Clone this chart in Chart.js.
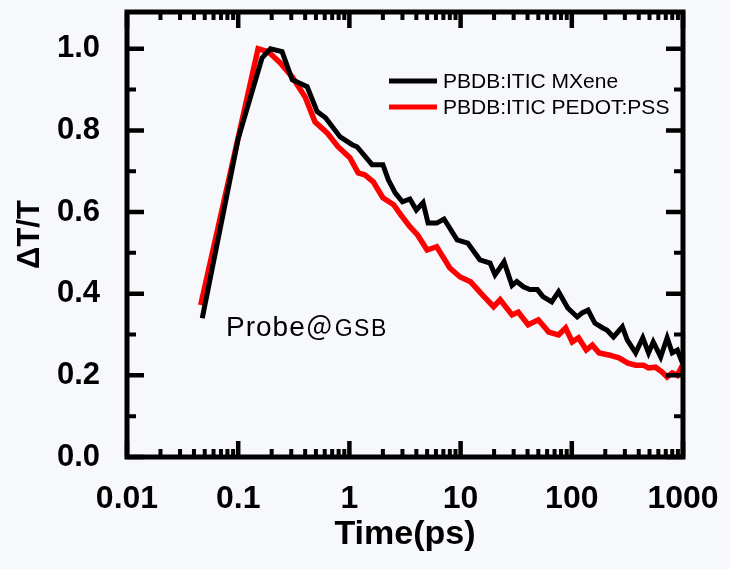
<!DOCTYPE html>
<html>
<head>
<meta charset="utf-8">
<script src="https://cdn.jsdelivr.net/npm/chart.js@4"></script>
<style>
  body { margin: 0; background: #f6f8fc; }
  canvas { display: block; }
</style>
</head>
<body>
<canvas id="chart" width="730" height="569"></canvas>
<script>
// time delays (ps) and normalized signal
const mxTime = [0.0475, 0.1, 0.164, 0.195, 0.248, 0.306, 0.417, 0.513, 0.61, 0.826, 1.06, 1.17, 1.6, 2.0, 2.24,
  2.58, 3.0, 3.5, 4.0, 4.6, 5.1, 6.1, 7.1, 9.3, 11.6, 14.9, 18.4, 20.4, 24.6, 29, 32, 36.7, 42, 49, 55, 66,
  76, 92, 112, 124, 140, 161, 190, 207, 237, 285, 315, 375, 435, 490, 540, 630, 720, 800, 890, 990];
const mxSignal = [0.34, 0.78, 0.978, 1.0, 0.993, 0.924, 0.907, 0.846, 0.831, 0.784, 0.765, 0.76, 0.716, 0.716, 0.679,
  0.647, 0.625, 0.632, 0.605, 0.623, 0.573, 0.573, 0.583, 0.532, 0.524, 0.483, 0.475, 0.446, 0.478, 0.42, 0.43, 0.417, 0.41, 0.41, 0.393, 0.38,
  0.405, 0.365, 0.343, 0.353, 0.36, 0.328, 0.316, 0.311, 0.294, 0.319, 0.287, 0.255, 0.292, 0.255, 0.282, 0.245, 0.292, 0.255, 0.262, 0.23];

const pedotTime = [0.046, 0.151, 0.186, 0.238, 0.306, 0.40, 0.49, 0.63, 0.79, 1.01, 1.2, 1.38, 1.64, 2.0, 2.5,
  2.9, 3.5, 4.1, 5.0, 6.1, 8.0, 9.9, 12.3, 15.7, 19.8, 22.7, 29, 33, 40.5, 50, 62, 76, 88, 101, 115, 135,
  153, 176, 215, 265, 320, 375, 440, 490, 565, 650, 720, 800, 890, 990];
const pedotSignal = [0.372, 1.0, 0.993, 0.966, 0.931, 0.882, 0.821, 0.794, 0.76, 0.733, 0.696, 0.691, 0.674, 0.635, 0.618,
  0.593, 0.564, 0.544, 0.507, 0.515, 0.463, 0.441, 0.429, 0.397, 0.368, 0.385, 0.348, 0.355, 0.324, 0.336, 0.306, 0.299, 0.316, 0.282, 0.292, 0.262,
  0.274, 0.255, 0.25, 0.243, 0.23, 0.225, 0.225, 0.218, 0.22, 0.208, 0.196, 0.206, 0.2, 0.225];

const xTicks = [0.01, 0.1, 1, 10, 100, 1000];
const yTicks = [0, 0.2, 0.4, 0.6, 0.8, 1.0];
const yMinorTicks = [0.1, 0.3, 0.5, 0.7, 0.9];

const toPoints = (xs, ys) => xs.map((x, i) => ({ x: x, y: ys[i] }));

// box frame + inward ticks like the origin-style plot
const framePlugin = {
  id: 'frame',
  afterDatasetsDraw(chart) {
    const { ctx, chartArea: a, scales } = chart;
    const xs = scales.x, ys = scales.y;
    ctx.save();
    ctx.strokeStyle = '#000';
    ctx.lineCap = 'butt';

    ctx.lineWidth = 4;
    for (let e = -2; e <= 2; e++) {
      for (let k = 2; k <= 9; k++) {
        const px = xs.getPixelForValue(k * Math.pow(10, e));
        ctx.beginPath();
        ctx.moveTo(px, a.bottom); ctx.lineTo(px, a.bottom - 8);
        ctx.moveTo(px, a.top); ctx.lineTo(px, a.top + 8);
        ctx.stroke();
      }
    }
    yMinorTicks.forEach(v => {
      const py = ys.getPixelForValue(v);
      ctx.beginPath();
      ctx.moveTo(a.left, py); ctx.lineTo(a.left + 9, py);
      ctx.moveTo(a.right, py); ctx.lineTo(a.right - 9, py);
      ctx.stroke();
    });

    ctx.lineWidth = 4.5;
    xTicks.forEach(v => {
      const px = xs.getPixelForValue(v);
      ctx.beginPath();
      ctx.moveTo(px, a.bottom); ctx.lineTo(px, a.bottom - 16);
      ctx.moveTo(px, a.top); ctx.lineTo(px, a.top + 16);
      ctx.stroke();
    });
    yTicks.forEach(v => {
      const py = ys.getPixelForValue(v);
      ctx.beginPath();
      ctx.moveTo(a.left, py); ctx.lineTo(a.left + 17, py);
      ctx.moveTo(a.right, py); ctx.lineTo(a.right - 17, py);
      ctx.stroke();
    });

    ctx.lineWidth = 5;
    ctx.strokeRect(a.left, a.top, a.right - a.left, a.bottom - a.top);

    // legend
    ctx.font = '21px "Liberation Sans", Arial, sans-serif';
    ctx.textBaseline = 'middle';
    ctx.textAlign = 'left';
    ctx.fillStyle = '#000';
    chart.data.datasets.forEach((ds, i) => {
      const y = 81 + i * 26;
      ctx.strokeStyle = ds.borderColor;
      ctx.lineWidth = 5;
      ctx.beginPath();
      ctx.moveTo(389, y); ctx.lineTo(437, y);
      ctx.stroke();
      ctx.fillText(ds.label, 443, y + 1);
    });

    // annotation
    ctx.textBaseline = 'alphabetic';
    ctx.letterSpacing = '1px';
    let tx = 226;
    ctx.font = '28px "Liberation Sans", Arial, sans-serif';
    ctx.fillText('Probe', tx, 336);
    tx += ctx.measureText('Probe').width;
    ctx.font = '27px "Noto Sans CJK SC", sans-serif';
    ctx.fillText('＠', tx, 338);
    tx += ctx.measureText('＠').width + 1;
    ctx.font = '23px "Liberation Sans", Arial, sans-serif';
    ctx.letterSpacing = '1.5px';
    ctx.fillText('GSB', tx, 336);
    ctx.restore();
  }
};

new Chart(document.getElementById('chart'), {
  type: 'line',
  data: {
    datasets: [
      {
        label: 'PBDB:ITIC MXene',
        data: toPoints(mxTime, mxSignal),
        borderColor: '#000000',
        borderWidth: 5,
        pointRadius: 0,
        tension: 0
      },
      {
        label: 'PBDB:ITIC PEDOT:PSS',
        data: toPoints(pedotTime, pedotSignal),
        borderColor: '#ff0000',
        borderWidth: 5.5,
        pointRadius: 0,
        tension: 0
      }
    ]
  },
  options: {
    responsive: false,
    animation: false,
    layout: { padding: { top: 12, right: 47, left: 8, bottom: 10 } },
    plugins: { legend: { display: false }, tooltip: { enabled: false } },
    scales: {
      x: {
        type: 'logarithmic',
        min: 0.01,
        max: 1000,
        afterBuildTicks: s => { s.ticks = xTicks.map(v => ({ value: v })); },
        afterFit: s => { s.height = 102; s.paddingLeft = 0; s.paddingRight = 0; },
        grid: { display: false },
        border: { display: false },
        ticks: {
          color: '#000',
          padding: 15,
          maxRotation: 0,
          autoSkip: false,
          font: { family: '"Liberation Sans", Arial', size: 32, weight: 'bold' },
          callback: v => String(v)
        },
        title: {
          display: true,
          text: 'Time(ps)',
          color: '#000',
          font: { family: '"Liberation Sans", Arial', size: 34, weight: 'bold' }
        }
      },
      y: {
        min: 0,
        max: 1.09,
        afterBuildTicks: s => { s.ticks = yTicks.map(v => ({ value: v })); },
        afterFit: s => { s.width = 119; s.paddingTop = 0; s.paddingBottom = 0; },
        grid: { display: false },
        border: { display: false },
        ticks: {
          color: '#000',
          padding: 19,
          font: { family: '"Liberation Sans", Arial', size: 31, weight: 'bold' },
          callback: v => v.toFixed(1)
        },
        title: {
          display: true,
          text: 'ΔT/T',
          color: '#000',
          font: { family: '"Liberation Sans", Arial', size: 31, weight: 'bold' }
        }
      }
    }
  },
  plugins: [framePlugin]
});
</script>
</body>
</html>
